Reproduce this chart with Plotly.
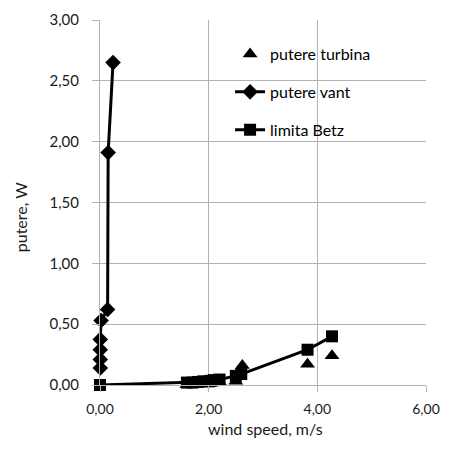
import plotly.graph_objects as go

# putere turbina (triangles)
turb_x = [1.60, 1.70, 1.80, 1.90, 2.00, 2.05, 2.10, 2.20, 2.50, 2.62, 3.82, 4.27]
turb_y = [0.005, 0.010, 0.010, 0.015, 0.015, 0.020, 0.020, 0.025, 0.030, 0.16, 0.17, 0.24]

# putere vant (diamonds)
vant_x = [0.005, 0.005, 0.005, 0.005, 0.02, 0.14, 0.15, 0.24]
vant_y = [0.14, 0.21, 0.29, 0.375, 0.53, 0.62, 1.91, 2.65]

# limita Betz (squares)
betz_x = [0.0, 1.60, 1.70, 1.80, 1.90, 2.00, 2.05, 2.10, 2.20, 2.50, 2.60, 3.82, 4.27]
betz_y = [0.0, 0.020, 0.020, 0.025, 0.030, 0.030, 0.035, 0.040, 0.045, 0.075, 0.09, 0.29, 0.40]

x_ticks = [0, 2, 4, 6]
y_ticks = [0, 0.5, 1.0, 1.5, 2.0, 2.5, 3.0]

FONT = "Lato"
GRID = "#b3b3b3"
TXT = "#1a1a1a"
fig = go.Figure()
fig.add_trace(go.Scatter(x=turb_x, y=turb_y, mode="markers", name="putere turbina",
                         legendgroup="a",
                         marker=dict(symbol="triangle-up", size=13, color="black"),
                         cliponaxis=False))
fig.add_trace(go.Scatter(x=vant_x, y=vant_y, mode="lines+markers", name="putere vant",
                         legendgroup="b",
                         line=dict(color="black", width=3),
                         marker=dict(symbol="diamond", size=12, color="black"),
                         cliponaxis=False))
fig.add_trace(go.Scatter(x=betz_x, y=betz_y, mode="lines+markers", name="limita Betz",
                         legendgroup="c",
                         line=dict(color="black", width=3),
                         marker=dict(symbol="square", size=12, color="black"),
                         cliponaxis=False))

fig.update_layout(
    width=433, height=433,
    margin=dict(l=92, r=15, t=12, b=56, autoexpand=False),
    paper_bgcolor="white", plot_bgcolor="white",
    separators=", ",
    font=dict(family=FONT, size=15, color=TXT),
    showlegend=True,
    legend=dict(x=0.399, y=0.953, xanchor="left", yanchor="top",
                bgcolor="rgba(0,0,0,0)", tracegroupgap=14,
                font=dict(family=FONT, size=16, color="black")),
    xaxis=dict(range=[0, 6], tickvals=x_ticks, tickformat=".2f",
               tickfont=dict(size=14),
               showgrid=True, gridcolor=GRID, gridwidth=1,
               zeroline=False, showline=True, linecolor=GRID,
               ticks="outside", ticklen=6, tickcolor=GRID,
               ticklabelstandoff=5, automargin=False),
    yaxis=dict(range=[0, 3], tickvals=y_ticks, tickformat=".2f",
               showgrid=True, gridcolor=GRID, gridwidth=1,
               zeroline=False, showline=True, linecolor=GRID,
               ticks="outside", ticklen=7, tickcolor=GRID,
               ticklabelstandoff=10, automargin=False),
    annotations=[
        dict(text="wind speed, m/s", xref="paper", yref="paper",
             x=0.509, y=-0.118, xanchor="center", yanchor="middle",
             showarrow=False, font=dict(family=FONT, size=16, color=TXT)),
        dict(text="putere, W", xref="paper", yref="paper",
             x=-0.245, y=0.46, xanchor="center", yanchor="middle", textangle=-90,
             showarrow=False, font=dict(family=FONT, size=16, color=TXT)),
    ],
)
fig.write_html("out.html")
